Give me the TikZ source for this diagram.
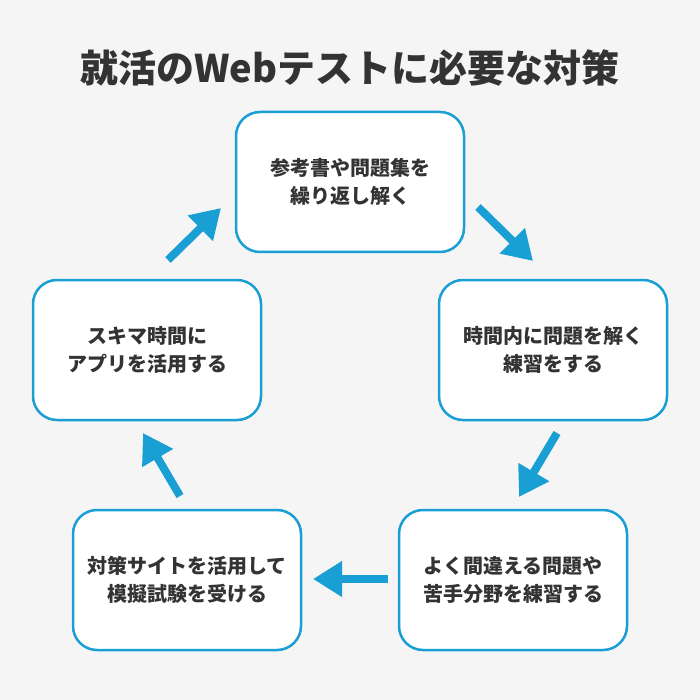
\documentclass[tikz,border=0pt]{standalone}
\usepackage{fontspec}
\setmainfont{Noto Sans CJK JP}
\usetikzlibrary{arrows.meta}
\definecolor{bgc}{HTML}{F5F5F5}
\definecolor{stepblue}{HTML}{1A9FD5}
\definecolor{txt}{HTML}{333333}

\begin{document}
\begin{tikzpicture}[x=1pt, y=-1pt,
    stepbox/.style={draw=stepblue, line width=2.5pt, fill=white, rounded corners=24pt,
        minimum width=228pt, minimum height=140pt, align=center, text=txt,
        font=\bfseries\fontsize{20}{28}\selectfont},
    flow/.style={-{Triangle[length=29pt, width=34pt]}, line width=8pt, stepblue}]
    \fill[bgc] (0,0) rectangle (700,700);
    \node[text=txt, font=\bfseries\fontsize{38}{42}\selectfont] (title) at (350,68) {就活のWebテストに必要な対策};
    \node[stepbox] (book) at (350,182) {参考書や問題集を\\繰り返し解く};
    \node[stepbox] (timed) at (553,350) {時間内に問題を解く\\練習をする};
    \node[stepbox] (weak) at (513,580) {よく間違える問題や\\苦手分野を練習する};
    \node[stepbox] (mock) at (187,580) {対策サイトを活用して\\模擬試験を受ける};
    \node[stepbox] (app) at (147,350) {スキマ時間に\\アプリを活用する};
    % arrow ends
    \coordinate (a1) at (478,207); \coordinate (b1) at (533,261);
    \coordinate (a2) at (557,433); \coordinate (b2) at (519,497);
    \coordinate (a3) at (388,579); \coordinate (b3) at (313,579);
    \coordinate (a4) at (180,496); \coordinate (b4) at (143,433);
    \coordinate (a5) at (168,260); \coordinate (b5) at (221,208);
    \foreach \i in {1,...,5}
        \draw[flow] (a\i) -- (b\i);
\end{tikzpicture}
\end{document}
